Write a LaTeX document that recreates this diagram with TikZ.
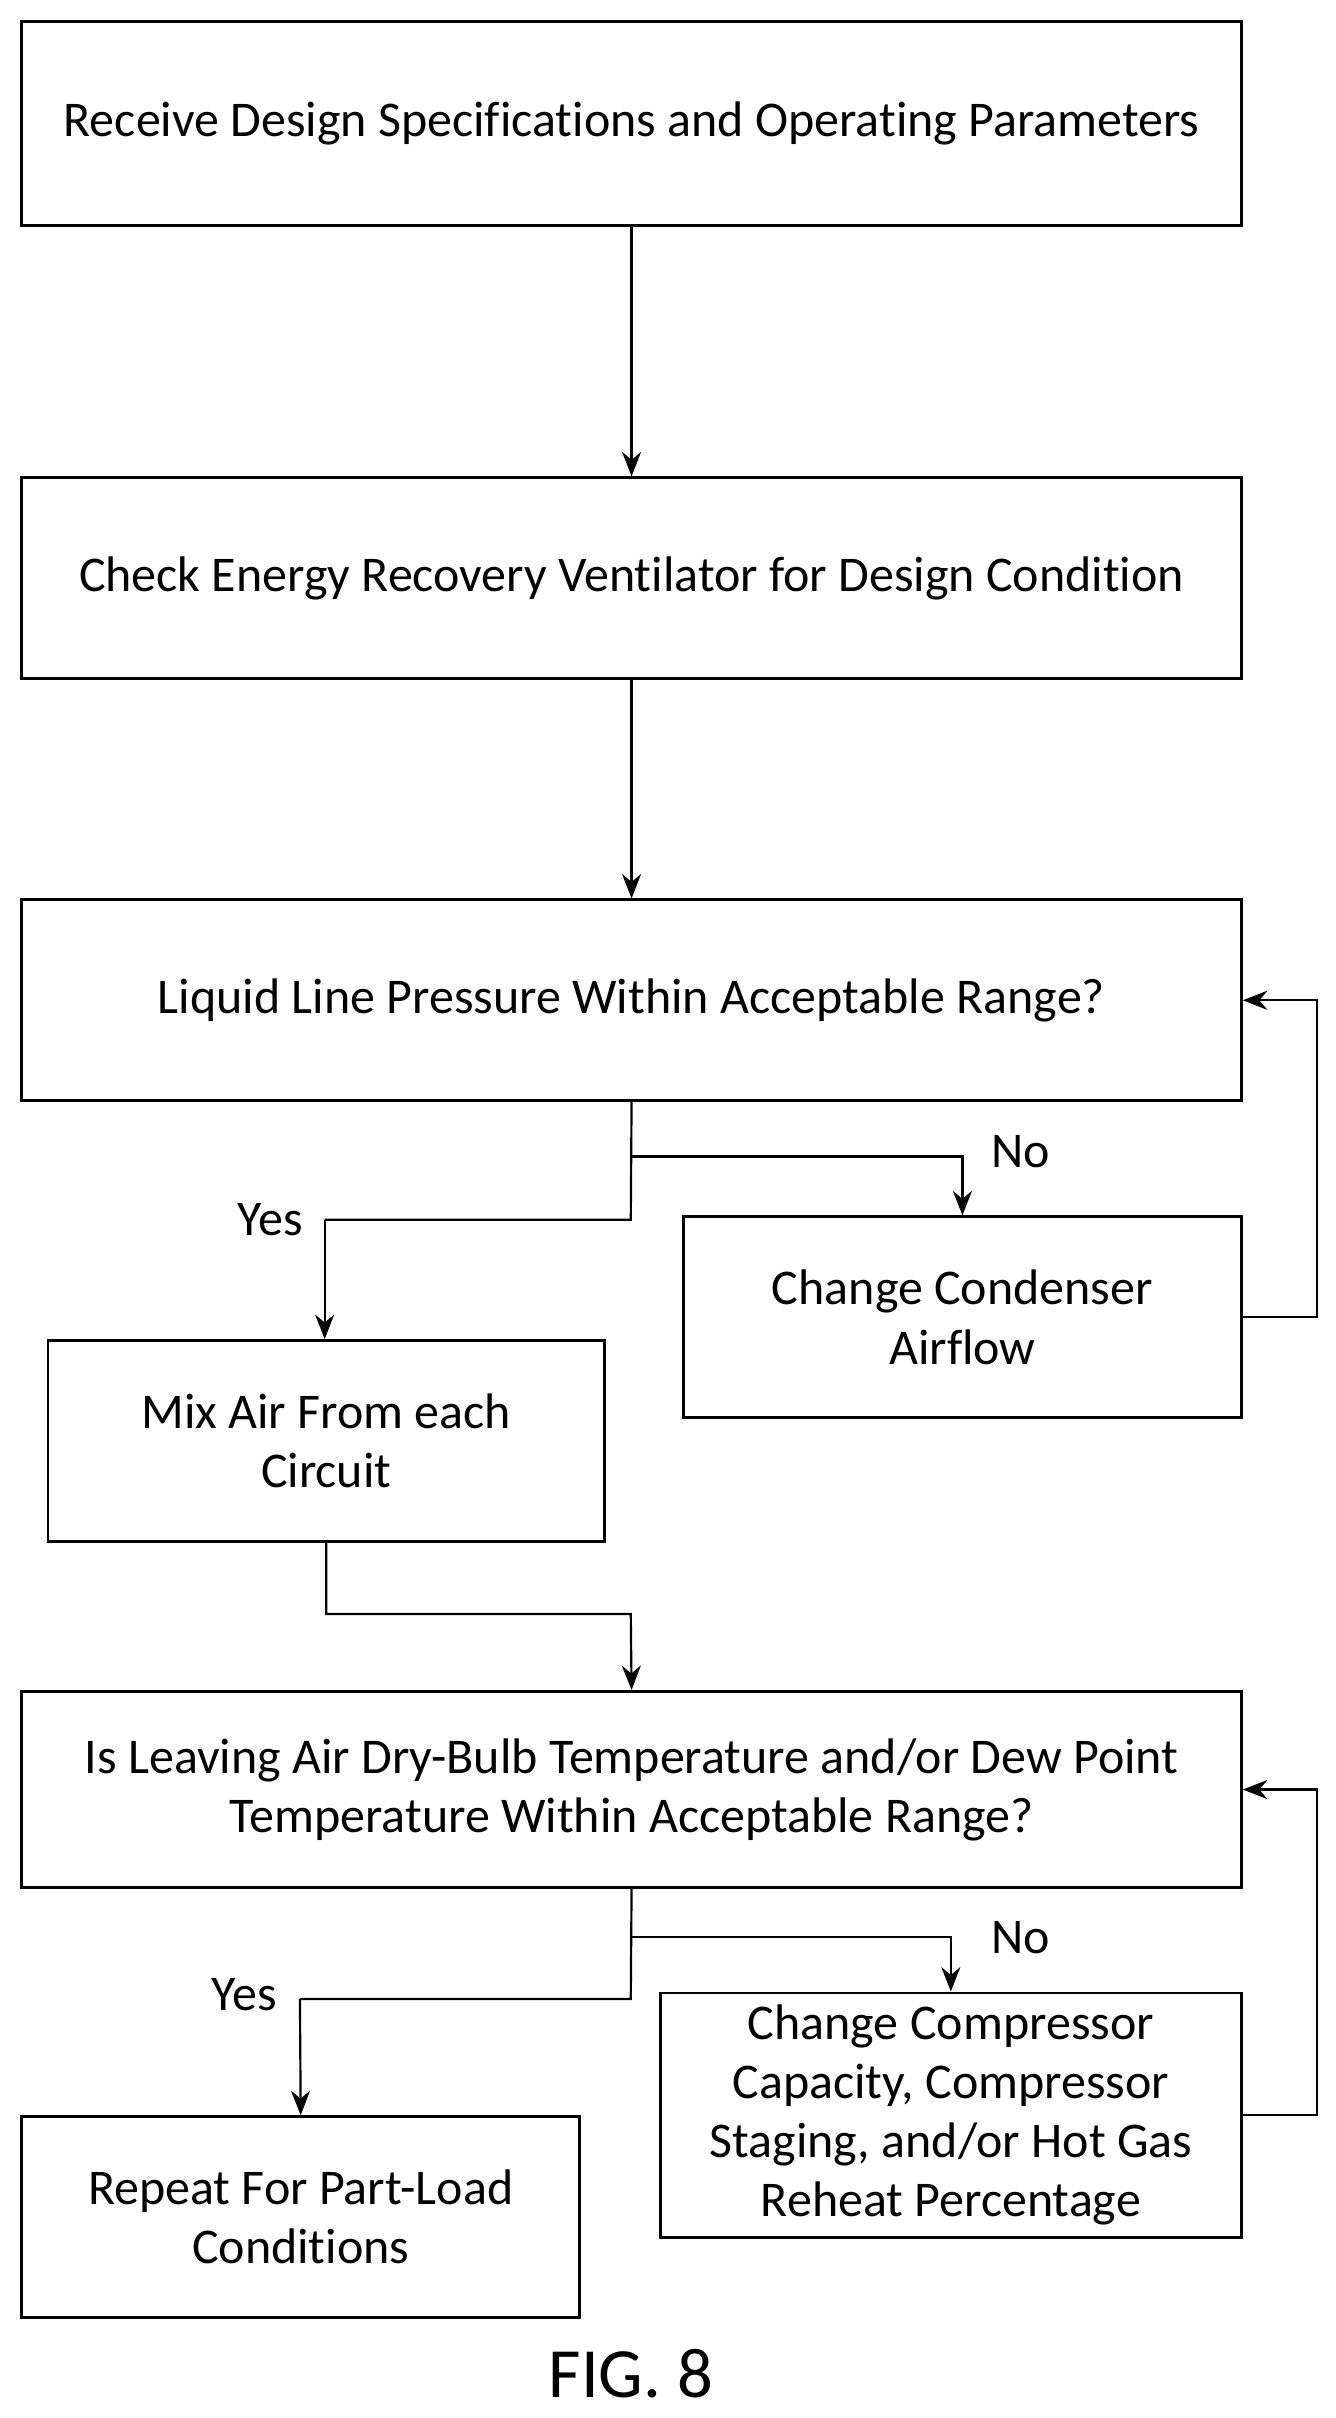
\documentclass[tikz,border=0pt]{standalone}
\usepackage{fontspec}
\setmainfont{Carlito}[Ligatures=NoCommon]
\usetikzlibrary{positioning, arrows.meta}

\begin{document}
\begin{tikzpicture}[x=0.02cm, y=-0.02cm, >={Stealth[length=9pt,width=7pt]},
    box/.style={draw, line width=1pt, align=center, inner sep=0pt},
    flow/.style={->, line width=0.8pt},
    lbl/.style={font=\fontsize{18.4}{22}\selectfont}]
  \useasboundingbox (0,0) rectangle (864,1564);
  \fontsize{18.4}{21.8}\selectfont

  \node[box, minimum width=789*0.02cm, minimum height=132*0.02cm] (recv) at (408.5,80) {Receive Design Specifications and Operating Parameters};
  \node[box, minimum width=789*0.02cm, minimum height=130*0.02cm] (erv) at (408.5,374) {Check Energy Recovery Ventilator for Design Condition};
  \node[box, minimum width=789*0.02cm, minimum height=130*0.02cm] (liq) at (408.5,647) {Liquid Line Pressure Within Acceptable Range?};
  \node[box, minimum width=361*0.02cm, minimum height=130*0.02cm] (cond) at (622.5,852) {Change Condenser\\Airflow};
  \node[box, minimum width=360*0.02cm, minimum height=130*0.02cm] (mix) at (211,932) {Mix Air From each\\Circuit};
  \node[box, minimum width=789*0.02cm, minimum height=127*0.02cm] (lat) at (408.5,1157.5) {Is Leaving Air Dry-Bulb Temperature and/or Dew Point\\Temperature Within Acceptable Range?};
  \node[box, minimum width=376*0.02cm, minimum height=158*0.02cm] (comp) at (615,1368) {Change Compressor\\Capacity, Compressor\\Staging, and/or Hot Gas\\Reheat Percentage};
  \node[box, minimum width=361*0.02cm, minimum height=130*0.02cm] (part) at (194.5,1434) {Repeat For Part-Load\\Conditions};
  \node[font=\fontsize{26}{30}\selectfont] (fig) at (408,1535) {FIG. 8};

  % main line
  \draw[flow] (recv) -- (erv);
  \draw[flow] (erv) -- (liq);

  % liquid line check
  \coordinate (liqfork) at (408,748);
  \draw[line width=0.8pt] (liq.south) -- (408,789) -- (210,789);
  \draw[flow] (210,789) -- (mix.north -| 210,0);
  \draw[flow] (liqfork) -| (cond.north);
  \draw[flow] (cond.east) -- (852,852) |- (liq.east);
  \node[lbl] (yes1) at (175,789) {Yes};
  \node[lbl] (no1) at (660,745) {No};

  % mix to temperature check
  \draw[flow] (mix.south) |- (408,1044) -- (lat.north);

  % temperature check
  \coordinate (latfork) at (408,1253);
  \draw[line width=0.8pt] (lat.south) -- (408,1293) -- (194,1293);
  \draw[flow] (194,1293) -- (part.north);
  \draw[flow] (latfork) -| (comp.north);
  \draw[flow] (comp.east) -- (852,1368) |- (lat.east);
  \node[lbl] (yes2) at (158,1290) {Yes};
  \node[lbl] (no2) at (660,1253) {No};
\end{tikzpicture}
\end{document}
